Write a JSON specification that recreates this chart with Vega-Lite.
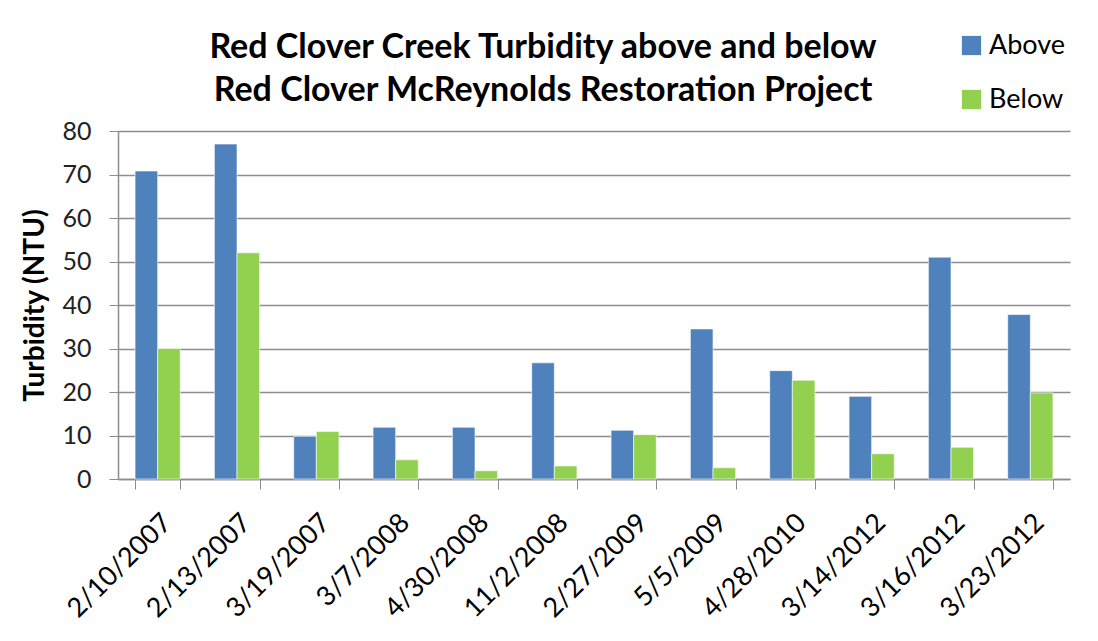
{
  "$schema": "https://vega.github.io/schema/vega-lite/v6.json",
  "autosize": {"type": "none"},
  "width": 952,
  "height": 348,
  "padding": {"left": 118, "top": 131, "right": 28, "bottom": 162},
  "background": "white",
  "title": {
    "text": ["Red Clover Creek Turbidity above and below", "Red Clover McReynolds Restoration Project"],
    "font": "Lato",
    "fontSize": 34,
    "fontWeight": "bold",
    "color": "black",
    "anchor": "middle",
    "frame": "group",
    "dx": -51,
    "dy": 76,
    "lineHeight": 43,
    "offset": 0
  },
  "data": {
    "values": [
      {"date": "2/10/2007", "series": "Above", "value": 70.8},
      {"date": "2/10/2007", "series": "Below", "value": 30},
      {"date": "2/13/2007", "series": "Above", "value": 77},
      {"date": "2/13/2007", "series": "Below", "value": 52},
      {"date": "3/19/2007", "series": "Above", "value": 9.8},
      {"date": "3/19/2007", "series": "Below", "value": 10.9},
      {"date": "3/7/2008", "series": "Above", "value": 11.9},
      {"date": "3/7/2008", "series": "Below", "value": 4.4},
      {"date": "4/30/2008", "series": "Above", "value": 11.9},
      {"date": "4/30/2008", "series": "Below", "value": 1.9},
      {"date": "11/2/2008", "series": "Above", "value": 26.7},
      {"date": "11/2/2008", "series": "Below", "value": 3.0},
      {"date": "2/27/2009", "series": "Above", "value": 11.2},
      {"date": "2/27/2009", "series": "Below", "value": 10.2},
      {"date": "5/5/2009", "series": "Above", "value": 34.5},
      {"date": "5/5/2009", "series": "Below", "value": 2.6},
      {"date": "4/28/2010", "series": "Above", "value": 24.9},
      {"date": "4/28/2010", "series": "Below", "value": 22.7},
      {"date": "3/14/2012", "series": "Above", "value": 19.0},
      {"date": "3/14/2012", "series": "Below", "value": 5.8},
      {"date": "3/16/2012", "series": "Above", "value": 51},
      {"date": "3/16/2012", "series": "Below", "value": 7.3},
      {"date": "3/23/2012", "series": "Above", "value": 37.8},
      {"date": "3/23/2012", "series": "Below", "value": 19.8}
    ]
  },
  "mark": {"type": "bar", "stroke": "white", "strokeWidth": 0.6},
  "encoding": {
    "x": {
      "field": "date",
      "type": "nominal",
      "sort": null,
      "scale": {"paddingInner": 0.43, "paddingOuter": 0.215},
      "axis": {
        "title": null,
        "labelAngle": -45,
        "labelFont": "Lato",
        "labelFontSize": 27,
        "labelColor": "black",
        "labelPadding": 20,
        "tickBand": "extent",
        "tickSize": 10,
        "tickColor": "#8c8c8c",
        "domainColor": "#8c8c8c",
        "domainWidth": 1.5,
        "grid": false
      }
    },
    "xOffset": {"field": "series", "type": "nominal", "scale": {"paddingInner": 0, "paddingOuter": 0}},
    "y": {
      "field": "value",
      "type": "quantitative",
      "scale": {"domain": [0, 80], "nice": false},
      "axis": {
        "title": "Turbidity (NTU)",
        "titleFont": "Lato",
        "titleFontSize": 28,
        "titleFontWeight": "bold",
        "titleColor": "black",
        "titlePadding": 12,
        "values": [0, 10, 20, 30, 40, 50, 60, 70, 80],
        "labelFont": "Lato",
        "labelFontSize": 25,
        "labelColor": "#222222",
        "labelPadding": 18,
        "tickSize": 9,
        "tickColor": "#8c8c8c",
        "domainColor": "#8c8c8c",
        "domainWidth": 1.5,
        "gridColor": "#8c8c8c",
        "gridWidth": 1.5
      }
    },
    "color": {
      "field": "series",
      "type": "nominal",
      "scale": {"domain": ["Above", "Below"], "range": ["#4F81BD", "#92D050"]},
      "legend": {
        "title": null,
        "orient": "none",
        "legendX": 840,
        "legendY": -99,
        "symbolType": "square",
        "symbolSize": 370,
        "symbolStrokeWidth": 0,
        "labelFont": "Lato",
        "labelFontSize": 27,
        "labelColor": "black",
        "labelOffset": 4,
        "rowPadding": 26
      }
    }
  },
  "config": {"view": {"stroke": null}}
}
